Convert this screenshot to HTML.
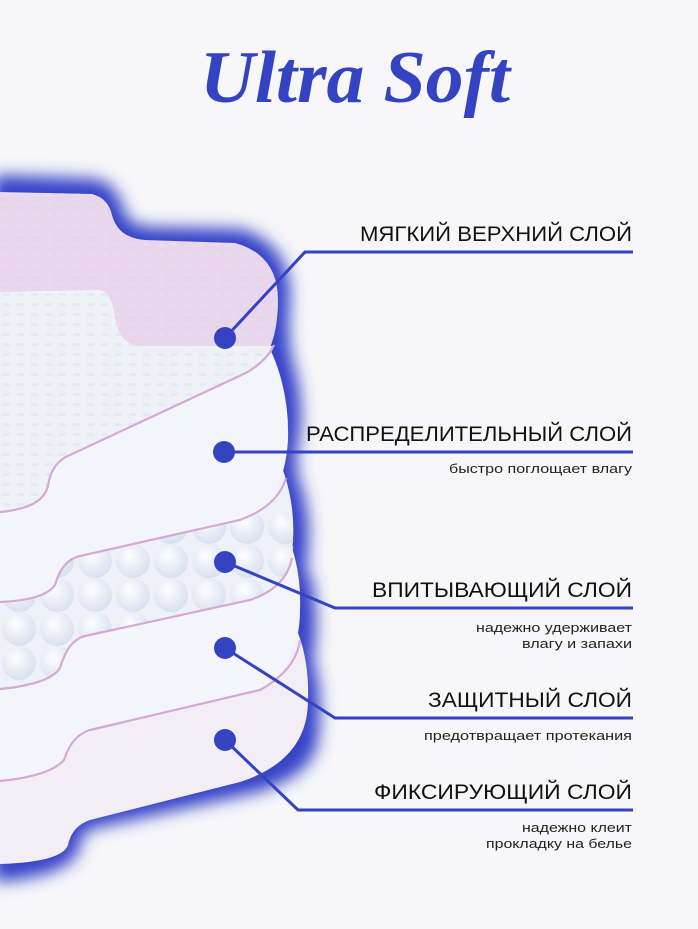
<!DOCTYPE html>
<html><head><meta charset="utf-8"><style>
html,body{margin:0;padding:0;background:#f7f7f9;}
svg{display:block}
</style></head><body>
<svg width="698" height="929" viewBox="0 0 698 929" xmlns="http://www.w3.org/2000/svg">
<defs>
<filter id="bl" x="-20%" y="-20%" width="140%" height="140%"><feGaussianBlur stdDeviation="8"/></filter>
<pattern id="dots" width="14" height="10" patternUnits="userSpaceOnUse"><rect x="3" y="3" width="7" height="3" fill="#dfe3ee"/></pattern>
<radialGradient id="ball" cx="40%" cy="35%" r="65%"><stop offset="0" stop-color="#ffffff"/><stop offset="1" stop-color="#d6dfee"/></radialGradient>
<pattern id="balls" width="38" height="34" patternUnits="userSpaceOnUse"><circle cx="19" cy="17" r="17" fill="url(#ball)"/></pattern>
</defs>
<rect width="698" height="929" fill="#f7f7f9"/>
<text x="355" y="102" text-anchor="middle" font-family="Liberation Serif, serif" font-style="italic" font-weight="bold" font-size="74" fill="#3443c2" textLength="310" lengthAdjust="spacingAndGlyphs">Ultra Soft</text>

<!-- glow -->
<path d="M0,182 L95,186 Q112,190 118,215 Q124,232 150,234 L240,236 Q285,250 283,300 Q280,335 285,360 Q298,400 292,440 Q286,470 295,490 Q305,520 300,560 Q298,572 306,585 Q312,620 306,660 Q318,700 310,745 Q300,775 245,788 L90,822 Q76,826 72,848 Q65,868 0,875 Z" fill="#3543c8" stroke="#3543c8" stroke-width="14" stroke-linejoin="round" filter="url(#bl)"/>
<!-- layer 5 -->
<path d="M0,600 L280,600 Q310,640 308,700 Q308,760 240,782 L90,820 Q72,826 68,845 Q62,862 0,864 Z" fill="#f3eef6"/>
<!-- layer 4 -->
<path d="M0,520 L280,520 Q302,560 300,610 Q300,665 260,690 L90,730 Q72,735 64,760 Q50,776 0,781 Z" fill="#f4f5fa"/>
<path d="M0,781 Q50,776 64,760 Q72,735 90,730 L260,690 Q296,670 300,640" fill="none" stroke="#d7a9d2" stroke-width="2.2"/>
<!-- layer 3 balls -->
<path d="M0,440 L270,440 Q296,490 293,540 Q290,590 250,600 L85,636 Q68,640 60,668 Q50,684 0,689 Z" fill="#eef2f8"/>
<path d="M0,590 Q30,560 90,550 L270,505 Q296,520 293,550 Q288,590 250,600 L85,636 Q68,640 60,668 Q50,684 0,689 Z" fill="url(#balls)" opacity="0.9"/>
<path d="M0,689 Q50,684 60,668 Q68,640 85,636 L250,600 Q286,588 292,558" fill="none" stroke="#d7a9d2" stroke-width="2.2"/>
<!-- layer 2 -->
<path d="M0,330 L260,330 Q290,380 288,440 Q284,505 240,520 L80,556 Q62,560 55,585 Q45,600 0,602 Z" fill="#f3f5fa"/>
<path d="M0,602 Q45,600 55,585 Q62,560 80,556 L240,520 Q278,506 286,478" fill="none" stroke="#d7a9d2" stroke-width="2.2"/>
<!-- layer 1 -->
<path d="M0,192 L92,194 Q108,198 112,215 Q118,238 145,240 L235,243 Q278,255 278,300 Q278,340 262,362 Q250,372 235,378 L70,455 Q52,462 48,485 Q44,508 0,512 Z" fill="#e9d5ec"/>
<path d="M0,292 L100,290 Q112,292 115,318 Q120,345 140,346 L274,346 Q266,368 240,378 L70,455 Q52,462 48,485 Q44,508 0,512 Z" fill="#eef2f7"/>
<path d="M0,192 L92,194 Q108,198 112,215 Q118,238 145,240 L235,243 Q278,255 278,300 Q278,340 262,362 Q250,372 235,378 L70,455 Q52,462 48,485 Q44,508 0,512 Z" fill="url(#dots)" opacity="0.6"/>
<path d="M0,512 Q44,508 48,485 Q52,462 70,455 L235,378 Q264,366 274,345" fill="none" stroke="#d7a9d2" stroke-width="2.2"/>

<!-- connectors -->
<g stroke="#3443c2" stroke-width="3" fill="none">
<polyline points="225,338 305,252 633,252"/>
<polyline points="224,452 633,452"/>
<polyline points="225,562 335,608 633,608"/>
<polyline points="225,648 335,718 633,718"/>
<polyline points="225,740 298,810 633,810"/>
</g>
<g fill="#3443c2">
<circle cx="225" cy="338" r="11"/><circle cx="224" cy="452" r="11"/><circle cx="225" cy="562" r="11"/><circle cx="225" cy="648" r="11"/><circle cx="225" cy="740" r="11"/>
</g>

<g font-family="Liberation Sans, sans-serif" fill="#111" text-anchor="end">
<text x="632" y="241" font-size="21" textLength="272" lengthAdjust="spacingAndGlyphs">МЯГКИЙ ВЕРХНИЙ СЛОЙ</text>
<text x="632" y="441" font-size="21" textLength="326" lengthAdjust="spacingAndGlyphs">РАСПРЕДЕЛИТЕЛЬНЫЙ СЛОЙ</text>
<text x="632" y="473" font-size="12.5" fill="#222" textLength="183" lengthAdjust="spacingAndGlyphs">быстро поглощает влагу</text>
<text x="632" y="597" font-size="21" textLength="260" lengthAdjust="spacingAndGlyphs">ВПИТЫВАЮЩИЙ СЛОЙ</text>
<text x="632" y="632" font-size="12.5" fill="#222" textLength="156" lengthAdjust="spacingAndGlyphs">надежно удерживает</text>
<text x="632" y="648" font-size="12.5" fill="#222" textLength="110" lengthAdjust="spacingAndGlyphs">влагу и запахи</text>
<text x="632" y="707" font-size="21" textLength="204" lengthAdjust="spacingAndGlyphs">ЗАЩИТНЫЙ СЛОЙ</text>
<text x="632" y="740" font-size="12.5" fill="#222" textLength="208" lengthAdjust="spacingAndGlyphs">предотвращает протекания</text>
<text x="632" y="799" font-size="21" textLength="258" lengthAdjust="spacingAndGlyphs">ФИКСИРУЮЩИЙ СЛОЙ</text>
<text x="632" y="832" font-size="12.5" fill="#222" textLength="110" lengthAdjust="spacingAndGlyphs">надежно клеит</text>
<text x="632" y="848" font-size="12.5" fill="#222" textLength="146" lengthAdjust="spacingAndGlyphs">прокладку на белье</text>
</g>
</svg>
</body></html>
